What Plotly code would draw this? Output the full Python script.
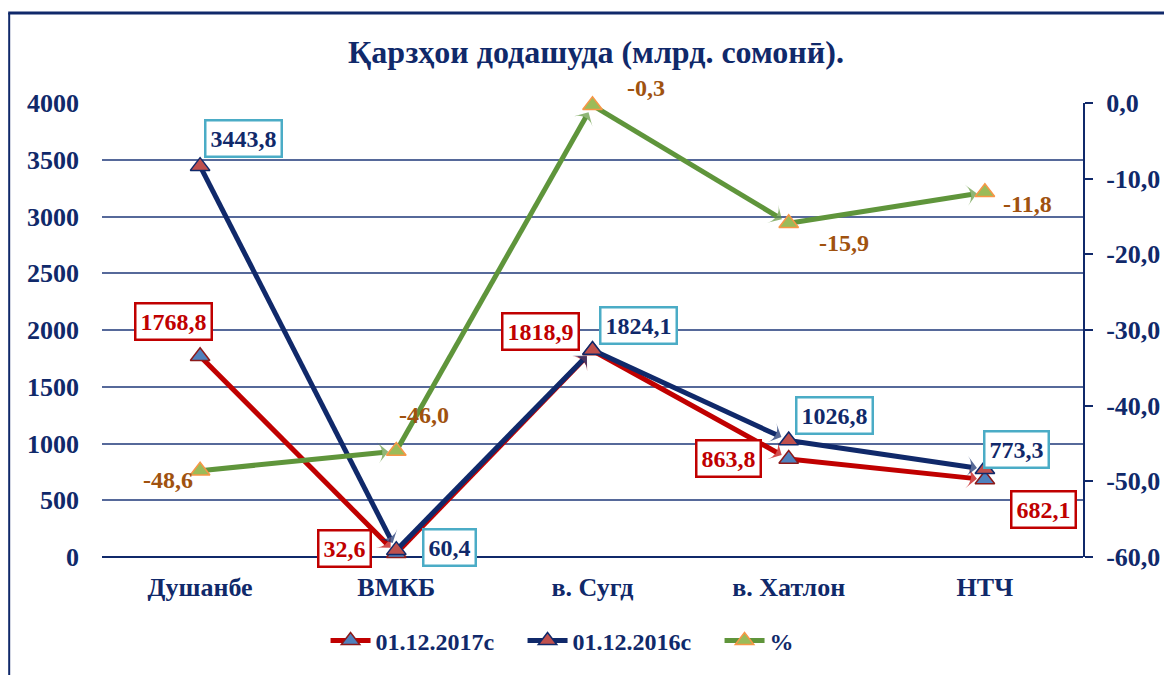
import plotly.graph_objects as go

categories = ["Душанбе", "ВМКБ", "в. Сугд", "в. Хатлон", "НТЧ"]
series_2017 = [1768.8, 32.6, 1818.9, 863.8, 682.1]
series_2016 = [3443.8, 60.4, 1824.1, 1026.8, 773.3]
series_pct = [-48.6, -46.0, -0.3, -15.9, -11.8]
names = ["01.12.2017с", "01.12.2016с", "%"]
title_text = "Қарзҳои додашуда (млрд. сомонӣ)."
pct_ticks = [0, -10, -20, -30, -40, -50, -60]
pct_tick_labels = ["0,0", "-10,0", "-20,0", "-30,0", "-40,0", "-50,0", "-60,0"]

# label offsets (pixels) — styling only
off_2017 = [(-27, -35), (-52, -5), (-52, -19), (-60, 0), (59, 30)]
off_2016 = [(43, -28), (53, -3), (46, -24), (46, -25), (32, -20)]
off_pct = [(-32, 9), (28, -36), (53, -17), (55, 20), (43, 12)]

NAVY = "#10296a"
RED = "#c00000"
GREEN = "#5f953b"
BROWN = "#a0520f"
CYAN = "#4bacc6"
FONT = "Liberation Serif"

# page has an 8px body margin: figure is placed at (8, 8)
W, H = 1164, 667
L, T = 94, 95
PW, PH = 983, 454
R = W - L - PW
B = H - T - PH


def fmt(v):
    return f"{v:.1f}".replace(".", ",")


def bfont(size, color):
    return dict(family=FONT, size=size, color=color, weight="bold")


fig = go.Figure()

specs = [
    (series_2017, names[0], RED, "y", "#4f81bd", "#8b1a1a"),
    (series_2016, names[1], NAVY, "y", "#c0504d", NAVY),
    (series_pct, names[2], GREEN, "y2", "#9bbb59", "#f79646"),
]

for vals, name, color, yax, mfill, mline in specs:
    # line with arrow heads
    fig.add_trace(go.Scatter(
        x=categories, y=vals, yaxis=yax, mode="lines+markers",
        line=dict(color=color, width=5),
        marker=dict(symbol="arrow-wide", angleref="previous", standoff=8,
                    size=[0] + [15] * (len(vals) - 1), color=color,
                    line=dict(width=0)),
        showlegend=False, hoverinfo="skip", cliponaxis=False,
    ))
    # triangle markers
    fig.add_trace(go.Scatter(
        x=categories, y=vals, yaxis=yax, mode="markers", name=name,
        marker=dict(symbol="triangle-up", size=17, color=mfill,
                    line=dict(color=mline, width=1.5)),
        showlegend=False, cliponaxis=False,
    ))

for vals, name, color, yax, mfill, mline in specs:
    fig.add_trace(go.Scatter(
        x=[None], y=[None], yaxis=yax, mode="lines+markers", name=name,
        line=dict(color=color, width=5),
        marker=dict(symbol="triangle-up", size=17, color=mfill,
                    line=dict(color=mline, width=1.5)),
    ))

annotations = []
for vals, offs, col, border in [(series_2017, off_2017, RED, RED),
                                (series_2016, off_2016, NAVY, CYAN)]:
    for c, v, (ax, ay) in zip(categories, vals, offs):
        annotations.append(dict(
            x=c, y=v, xref="x", yref="y", text=fmt(v), showarrow=True,
            arrowcolor="rgba(0,0,0,0)", arrowwidth=0.1, ax=ax, ay=ay,
            font=bfont(24, col),
            bgcolor="white", bordercolor=border, borderwidth=2.5, borderpad=4,
        ))
for c, v, (ax, ay) in zip(categories, series_pct, off_pct):
    annotations.append(dict(
        x=c, y=v, xref="x", yref="y2", text=fmt(v), showarrow=True,
        arrowcolor="rgba(0,0,0,0)", arrowwidth=0.1, ax=ax, ay=ay,
        font=bfont(24, BROWN),
    ))

fig.update_layout(
    width=W, height=H,
    margin=dict(l=L, r=R, t=T, b=B),
    paper_bgcolor="white", plot_bgcolor="white",
    separators=", ",
    font=dict(family=FONT, color=NAVY),
    title=dict(text=title_text, x=(596 - 8) / W, xanchor="center",
               y=1 - 44 / H, yanchor="middle", yref="container",
               font=bfont(32, NAVY)),
    xaxis=dict(range=[-0.5, len(categories) - 0.5], showgrid=False,
               showline=False, ticks="",
               tickfont=bfont(26, NAVY), ticklabelstandoff=12),
    yaxis=dict(range=[0, 4000], dtick=500, showgrid=True,
               gridcolor="#56699a", gridwidth=1.5, zeroline=True,
               zerolinecolor=NAVY, zerolinewidth=2,
               showline=False, ticks="", ticklabelstandoff=22,
               tickfont=bfont(26, NAVY)),
    yaxis2=dict(range=[-60, 0], tickvals=pct_ticks, ticktext=pct_tick_labels,
                overlaying="y", side="right",
                showgrid=False, zeroline=False,
                showline=True, linecolor=NAVY, linewidth=2,
                ticks="outside", ticklen=8, tickcolor=NAVY, tickwidth=2,
                ticklabelstandoff=8,
                tickfont=bfont(26, NAVY)),
    legend=dict(orientation="h", x=(326 - 8 - L) / PW, xanchor="left",
                y=-84 / PH, yanchor="middle",
                font=bfont(24, NAVY),
                entrywidth=142, entrywidthmode="pixels",
                itemwidth=40, bgcolor="rgba(0,0,0,0)"),
    annotations=annotations,
    shapes=[dict(type="line", xref="paper", yref="paper",
                 x0=-L / PW, x1=(W - L) / PW, y0=1 + (T - 5) / PH, y1=1 + (T - 5) / PH,
                 line=dict(color=NAVY, width=3)),
            dict(type="line", xref="paper", yref="paper",
                 x0=-(L - 1) / PW, x1=-(L - 1) / PW, y0=1 + (T - 5) / PH, y1=-B / PH,
                 line=dict(color=NAVY, width=2))],
    showlegend=True,
)

fig.write_html("out.html")
